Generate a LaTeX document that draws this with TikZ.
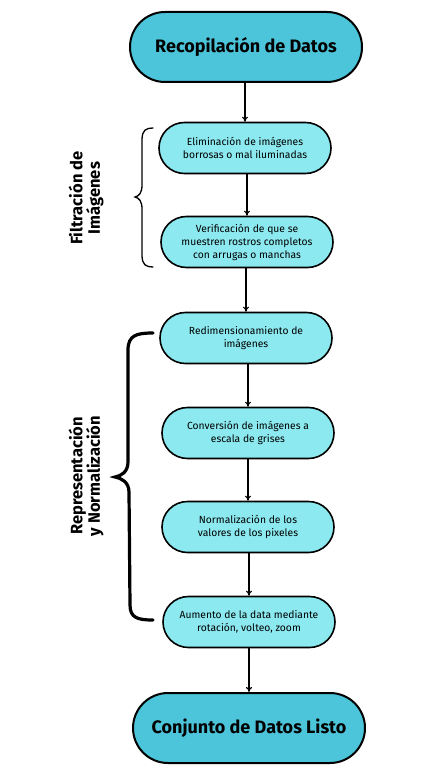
\documentclass[tikz,border=0pt]{standalone}
\usepackage{fontspec}
\setmainfont{Fira Sans}
\usetikzlibrary{shapes.misc,arrows.meta}
\definecolor{darkcyan}{HTML}{4CC5DA}
\definecolor{lightcyan}{HTML}{8BE9EF}
\tikzset{
  bigbox/.style={rounded rectangle, draw=black, line width=2pt, fill=darkcyan,
    minimum width=232pt, minimum height=70pt, inner sep=0pt,
    font=\fontsize{18}{21}\selectfont\bfseries},
  smallbox/.style={rounded rectangle, draw=black, line width=1.6pt, fill=lightcyan,
    minimum width=172pt, minimum height=51pt, inner sep=0pt, align=center,
    font=\fontsize{10.3}{13}\selectfont},
  conn/.style={-{To[length=5pt,width=6pt]}, line width=1.1pt},
  sidelabel/.style={rotate=90, align=center, font=\fontsize{16.5}{17.5}\selectfont\bfseries}
}
\begin{document}
\begin{tikzpicture}[x=1pt,y=-1pt]
\useasboundingbox (0,0) rectangle (433,767);
\node[bigbox] (n0) at (246,47) {Recopilación de Datos};
\node[smallbox] (n1) at (245,148) {Eliminación de imágenes\\borrosas o mal iluminadas};
\node[smallbox] (n2) at (247,242) {Verificación de que se\\muestren rostros completos\\con arrugas o manchas};
\node[smallbox] (n3) at (246,338) {Redimensionamiento de\\imágenes};
\node[smallbox] (n4) at (248,433) {Conversión de imágenes a\\escala de grises};
\node[smallbox] (n5) at (248,527) {Normalización de los\\valores de los pixeles};
\node[smallbox] (n6) at (249,622) {Aumento de la data mediante\\rotación, volteo, zoom};
\node[bigbox] (n7) at (249,728) {Conjunto de Datos Listo};

\draw[conn] (n0.south -| n1.north) -- (n1.north);
\draw[conn] (n1.south -| n2.north) -- (n2.north);
\draw[conn] (n2.south -| n3.north) -- (n3.north);
\draw[conn] (n3.south -| n4.north) -- (n4.north);
\draw[conn] (n4.south -| n5.north) -- (n5.north);
\draw[conn] (n5.south -| n6.north) -- (n6.north);
\draw[conn] (n6.south -| n7.north) -- (n7.north);

% braces
\draw[line width=1.3pt, line cap=round]
  (153,128) .. controls (146,128) and (142,130) .. (142,140)
  -- (142,185) .. controls (142,193) and (139,196) .. (135,197)
  .. controls (139,198) and (142,201) .. (142,209)
  -- (142,255) .. controls (142,265) and (146,267) .. (153,267);
\draw[line width=3.2pt, line cap=round]
  (153,333) .. controls (137,333) and (128,335) .. (128,350)
  -- (128,462) .. controls (128,472) and (121,476) .. (115,477)
  .. controls (121,478) and (129,482) .. (129,492)
  -- (130,605) .. controls (130,618) and (138,620) .. (153,620);

\node[sidelabel] (l1) at (86,198) {Filtración de\\Imágenes};
\node[sidelabel] (l2) at (86,476) {Representación\\y Normalización};
\end{tikzpicture}
\end{document}
